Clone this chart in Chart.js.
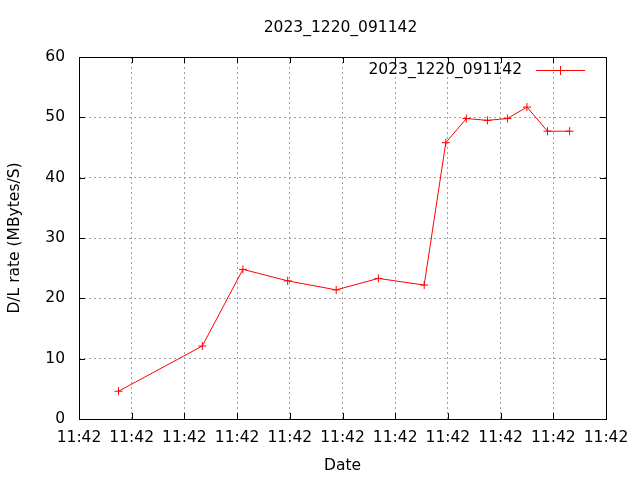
<!DOCTYPE html>
<html>
<head>
<meta charset="utf-8">
<script src="https://cdn.jsdelivr.net/npm/chart.js@4/dist/chart.umd.min.js"></script>
<style>
  html, body { margin: 0; padding: 0; background: #fff; }
  #wrap { width: 640px; height: 480px; }
</style>
</head>
<body>
<div id="wrap"><canvas id="c" width="640" height="480"></canvas></div>
<script>
// Data (x in tick-interval units along the time axis)
const seriesName = "2023_1220_091142";
const xValues = [0.75, 2.34, 3.11, 3.96, 4.88, 5.68, 6.55, 6.96, 7.35, 7.75, 8.13, 8.50, 8.89, 9.31];
const yValues = [4.6, 12.1, 24.8, 22.9, 21.4, 23.3, 22.2, 45.8, 49.8, 49.5, 49.8, 51.7, 47.7, 47.7];
const xTickLabels = ["11:42","11:42","11:42","11:42","11:42","11:42","11:42","11:42","11:42","11:42","11:42"];
const yTicks = [0, 10, 20, 30, 40, 50, 60];

const FONT = "'DejaVu Sans', sans-serif";
const FS = 15.5;
const points = xValues.map((x, i) => ({ x: x, y: yValues[i] }));

const framePlugin = {
  id: 'frame',
  afterDraw(chart) {
    const ctx = chart.ctx;
    const a = chart.chartArea;
    const xs = chart.scales.x, ys = chart.scales.y;
    ctx.save();
    // title centred over the plot area
    ctx.font = FS + "px " + FONT;
    ctx.fillStyle = '#000';
    ctx.textAlign = 'center';
    ctx.textBaseline = 'middle';
    ctx.fillText(seriesName, (a.left + a.right) / 2 - 2, 28);

    ctx.strokeStyle = '#000';
    ctx.lineWidth = 1;
    ctx.setLineDash([]);
    ctx.strokeRect(Math.round(a.left) + 0.5, Math.round(a.top) + 0.5,
                   Math.round(a.right - a.left), Math.round(a.bottom - a.top));
    const tl = 6;
    ctx.beginPath();
    xs.ticks.forEach(t => {
      const px = Math.round(xs.getPixelForValue(t.value)) + 0.5;
      ctx.moveTo(px, a.bottom); ctx.lineTo(px, a.bottom - tl);
      ctx.moveTo(px, a.top); ctx.lineTo(px, a.top + tl);
    });
    ys.ticks.forEach(t => {
      const py = Math.round(ys.getPixelForValue(t.value)) + 0.5;
      ctx.moveTo(a.left, py); ctx.lineTo(a.left + tl, py);
      ctx.moveTo(a.right, py); ctx.lineTo(a.right - tl, py);
    });
    ctx.stroke();

    // key (legend) inside the plot, gnuplot style
    const ds = chart.data.datasets[0];
    const ky = 70;
    ctx.textAlign = 'right';
    ctx.fillText(ds.label, 522, ky);
    ctx.strokeStyle = '#ff0000';
    ctx.beginPath();
    ctx.moveTo(536, ky + 0.5); ctx.lineTo(585, ky + 0.5);
    ctx.moveTo(560.5, ky - 4); ctx.lineTo(560.5, ky + 5);
    ctx.stroke();
    ctx.restore();
  }
};

new Chart(document.getElementById('c'), {
  type: 'line',
  data: {
    datasets: [{
      label: seriesName,
      data: points,
      borderColor: '#ff0000',
      backgroundColor: '#ff0000',
      borderWidth: 1,
      pointStyle: 'cross',
      pointRadius: 4,
      pointBorderWidth: 1,
      pointBorderColor: '#ff0000',
      tension: 0,
      fill: false
    }]
  },
  options: {
    responsive: false,
    animation: false,
    layout: { padding: { left: 0, right: 34, top: 57, bottom: 5 } },
    plugins: {
      legend: { display: false },
      tooltip: { enabled: false },
      title: { display: false }
    },
    scales: {
      x: {
        type: 'linear',
        min: 0, max: 10,
        afterFit(s) { s.height = 56; },
        afterBuildTicks(s) { s.ticks = xTickLabels.map((_, i) => ({ value: i })); },
        ticks: {
          color: '#000',
          font: { family: FONT, size: FS },
          padding: 10,
          maxRotation: 0,
          autoSkip: false,
          callback: (v, i) => xTickLabels[i]
        },
        grid: {
          color: '#a0a0a0',
          lineWidth: 1,
          drawTicks: false
        },
        border: { display: false, dash: [2, 3] },
        title: {
          display: true,
          text: 'Date',
          color: '#000',
          font: { family: FONT, size: FS },
          padding: 0
        }
      },
      y: {
        min: 0, max: 60,
        afterFit(s) { s.width = 79; },
        afterBuildTicks(s) { s.ticks = yTicks.map(v => ({ value: v })); },
        ticks: {
          color: '#000',
          font: { family: FONT, size: FS },
          padding: 14
        },
        grid: {
          color: '#a0a0a0',
          lineWidth: 1,
          drawTicks: false
        },
        border: { display: false, dash: [2, 3] },
        title: {
          display: true,
          text: 'D/L rate (MBytes/S)',
          color: '#000',
          font: { family: FONT, size: FS },
          padding: { top: 6, bottom: 0 }
        }
      }
    }
  },
  plugins: [framePlugin]
});
</script>
</body>
</html>
